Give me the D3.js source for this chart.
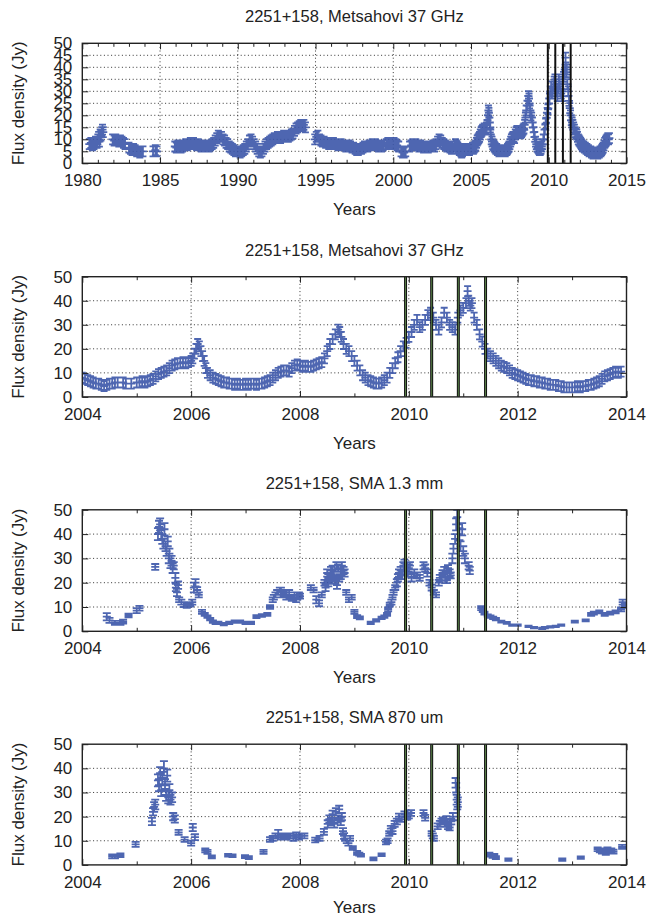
<!DOCTYPE html>
<meta charset="utf-8">

<!-- Load d3.js -->
<script src="https://d3js.org/d3.v7.min.js"></script>

<style>
  body { margin: 0; background: #fff; }
  text { font-family: "Liberation Sans", Arial, Helvetica, sans-serif; fill: #222; }
</style>

<div id="lightcurves"></div>

<script>

// Metsahovi 37 GHz light curve (year, Jy)
const m37Year = [
  1980.45, 1980.55, 1980.65, 1980.75, 1980.85, 1980.95, 1981.0, 1981.05, 1981.1, 1981.15, 1981.2, 1981.25, 1981.3, 1981.35,
  1981.95, 1982.05, 1982.15, 1982.25, 1982.35, 1982.45, 1982.55, 1982.65, 1982.75,
  1983.0, 1983.1, 1983.2, 1983.3, 1983.4, 1983.5, 1983.6, 1983.7, 1983.8, 1983.9,
  1984.55, 1984.7, 1984.8,
  1985.95, 1986.05, 1986.15, 1986.25, 1986.35, 1986.45, 1986.55, 1986.65, 1986.75, 1986.85, 1986.95,
  1987.05, 1987.15, 1987.25, 1987.35, 1987.45, 1987.55, 1987.65, 1987.75, 1987.85, 1987.95,
  1988.05, 1988.15, 1988.25, 1988.35, 1988.45, 1988.55, 1988.65, 1988.75, 1988.85, 1988.95,
  1989.05, 1989.15, 1989.25, 1989.35, 1989.45, 1989.55, 1989.65, 1989.75, 1989.85, 1989.95,
  1990.05, 1990.15, 1990.25, 1990.35, 1990.45, 1990.55, 1990.65, 1990.75, 1990.85, 1990.95,
  1991.05, 1991.15, 1991.25, 1991.35, 1991.45, 1991.55, 1991.65, 1991.75, 1991.85, 1991.95,
  1992.05, 1992.15, 1992.25, 1992.35, 1992.45, 1992.55, 1992.65, 1992.75, 1992.85, 1992.95,
  1993.05, 1993.15, 1993.25, 1993.35, 1993.45, 1993.55, 1993.65, 1993.75, 1993.85, 1993.95,
  1994.05, 1994.15, 1994.25, 1994.35,
  1994.95, 1995.05, 1995.15, 1995.25, 1995.35, 1995.45, 1995.55, 1995.65, 1995.75, 1995.85, 1995.95,
  1996.05, 1996.15, 1996.25, 1996.35, 1996.45, 1996.55, 1996.65, 1996.75, 1996.85, 1996.95,
  1997.05, 1997.15, 1997.25, 1997.35, 1997.45, 1997.55, 1997.65, 1997.75, 1997.85, 1997.95,
  1998.05, 1998.15, 1998.25, 1998.35, 1998.45, 1998.55, 1998.65, 1998.75, 1998.85, 1998.95,
  1999.05, 1999.15, 1999.25, 1999.35, 1999.55, 1999.65, 1999.75, 1999.85, 1999.95,
  2000.05, 2000.15, 2000.25, 2000.35, 2000.5, 2000.6, 2000.7, 2000.8,
  2001.05, 2001.15, 2001.25, 2001.35, 2001.45, 2001.55, 2001.65, 2001.75, 2001.85, 2001.95,
  2002.05, 2002.15, 2002.25, 2002.35, 2002.45, 2002.55, 2002.65, 2002.75, 2002.85, 2002.95,
  2003.05, 2003.15, 2003.25, 2003.35, 2003.45, 2003.55, 2003.65, 2003.75, 2003.85, 2003.95,
  2004.0, 2004.05, 2004.1, 2004.15, 2004.2, 2004.25, 2004.3, 2004.35, 2004.4, 2004.45,
  2004.5, 2004.55, 2004.6, 2004.65, 2004.75, 2004.8, 2004.9,
  2005.0, 2005.05, 2005.1, 2005.15, 2005.2, 2005.25, 2005.3, 2005.35, 2005.4, 2005.45,
  2005.5, 2005.55, 2005.6, 2005.65, 2005.7, 2005.75, 2005.8, 2005.85, 2005.9, 2005.95,
  2006.0, 2006.03, 2006.06, 2006.09, 2006.12, 2006.15, 2006.18, 2006.21, 2006.24, 2006.27,
  2006.3, 2006.35, 2006.4, 2006.45, 2006.5, 2006.55, 2006.6, 2006.65, 2006.7, 2006.75,
  2006.8, 2006.85, 2006.9, 2006.95, 2007.0, 2007.05, 2007.1, 2007.15, 2007.2, 2007.25,
  2007.3, 2007.35, 2007.4, 2007.45, 2007.5, 2007.55, 2007.6, 2007.65, 2007.7, 2007.75,
  2007.8, 2007.85, 2007.9, 2007.95, 2008.0, 2008.05, 2008.1, 2008.15, 2008.2, 2008.25,
  2008.3, 2008.35, 2008.4, 2008.45, 2008.5, 2008.55, 2008.6, 2008.65, 2008.7, 2008.73,
  2008.76, 2008.8, 2008.85, 2008.9, 2008.95, 2009.0, 2009.05, 2009.1, 2009.15, 2009.2,
  2009.25, 2009.3, 2009.35, 2009.4, 2009.45, 2009.5, 2009.55, 2009.6, 2009.65, 2009.7,
  2009.75, 2009.8, 2009.85, 2009.9, 2009.95, 2010.0, 2010.05, 2010.1, 2010.15, 2010.2,
  2010.25, 2010.3, 2010.35, 2010.4, 2010.45, 2010.5, 2010.55, 2010.6, 2010.65, 2010.7,
  2010.75, 2010.8, 2010.85, 2010.9, 2010.95, 2011.0, 2011.05, 2011.08, 2011.1, 2011.13,
  2011.16, 2011.2, 2011.25, 2011.3, 2011.35, 2011.4, 2011.45, 2011.5, 2011.55, 2011.6,
  2011.65, 2011.7, 2011.75, 2011.8, 2011.85, 2011.9, 2011.95, 2012.0, 2012.05, 2012.1,
  2012.15, 2012.2, 2012.25, 2012.3, 2012.35, 2012.4, 2012.45, 2012.5, 2012.55, 2012.6,
  2012.65, 2012.7, 2012.75, 2012.8, 2012.85, 2012.9, 2012.95, 2013.0, 2013.05, 2013.1,
  2013.15, 2013.2, 2013.25, 2013.3, 2013.35, 2013.4, 2013.45, 2013.5, 2013.55, 2013.6,
  2013.65, 2013.7, 2013.75, 2013.8, 2013.85, 2013.9
];
const m37Flux = [
  8, 8.5, 7.5, 8, 9, 8.5, 10, 11, 9, 12, 11.5, 13, 14, 13,
  10, 9.5, 10, 9.5, 9, 9.5, 9, 8.5, 8,
  6.5, 6, 5.5, 6, 5.5, 5, 5, 4.5, 5, 5,
  5, 5.5, 5,
  7, 6.5, 7.5, 7, 6.5, 7, 7.5, 8, 7.5, 8, 8.5,
  8, 8.5, 8, 7.5, 8, 7.5, 7, 7.5, 7.5, 7,
  7.5, 7, 7.5, 8, 8.5, 9.5, 10.5, 11.5, 11, 11,
  10, 9.5, 8.5, 8, 7, 6.5, 6, 5.5, 5, 5,
  5, 4.5, 5, 5.5, 6, 7, 8, 9.5, 10, 9,
  8, 7, 6, 5, 4.5, 5, 6, 7, 8, 8.5,
  9, 9.5, 10, 10.5, 10.5, 11, 11, 10.5, 11, 11.5,
  11, 11.5, 11, 11.5, 12, 12.5, 13.5, 14.5, 15, 15.5,
  16, 15.5, 16, 15,
  10, 11, 11.5, 10, 9.5, 9, 9, 8.5, 8.5, 8, 8.5,
  8, 8.5, 8, 8, 7.5, 8, 8, 7.5, 7.5, 7,
  7, 7.5, 7, 6.5, 6.5, 6, 5.5, 5.5, 6, 6,
  6.5, 7, 7, 7, 7.5, 7.5, 8, 7.5, 8, 7.5,
  7, 7.5, 7, 7.5, 8, 8.5, 8, 8.5, 8,
  8.5, 8, 7.5, 7, 5, 4.5, 4.5, 5,
  7, 7.5, 8, 7.5, 8, 7.5, 7, 7.5, 7, 6.5,
  7, 7, 6.5, 7, 7, 7.5, 7, 8, 9, 10,
  9.5, 8.5, 8, 7.5, 7, 7, 6.5, 6, 6, 7,
  8, 7.5, 7, 6.5, 6, 5.5, 5.5, 5, 4.5, 5,
  5.5, 5.5, 6, 6, 6, 5.5, 5.5,
  6, 6, 6.5, 6, 6.5, 7, 7.5, 8.5, 9.5, 10,
  10.5, 11, 12, 13, 13.5, 14, 14, 14.5, 14, 14.5,
  15, 16, 18, 20, 22, 21, 19, 17, 15, 12,
  10, 9, 8, 7.5, 7, 6.5, 6, 6, 5.5, 5.5,
  5, 5.5, 5, 5, 5.5, 5, 5.5, 5.5, 5, 5.5,
  5.5, 6, 6.5, 7, 8, 9, 10, 10.5, 11, 11,
  10.5, 12, 13, 13.5, 13, 12.5, 13, 12.5, 12.5, 13,
  13.5, 14, 14.5, 16, 19, 22, 24, 26, 28, 27,
  25, 22, 20, 19, 17, 15, 13, 11, 9, 8,
  7, 6.5, 6, 5.5, 5.5, 6, 7, 8, 10, 12,
  14, 16.5, 19, 21, 22.5, 25, 27, 30, 32, 29,
  30, 32, 34, 35, 33, 30, 28, 31, 35, 33,
  30, 29, 28, 33, 36, 37, 39, 44, 40, 38,
  39, 33, 30, 26, 23, 20, 18, 17, 16, 15,
  14, 13, 12.5, 12, 11, 10, 9.5, 9, 8.5, 8,
  7.5, 7, 7, 6.5, 6.5, 6, 6, 5.5, 5.5, 5,
  5, 5, 4.5, 4.5, 4, 4, 4, 4, 4, 4.5,
  4, 4.5, 4.5, 5, 5, 5.5, 6, 6.5, 7.5, 8.5,
  9, 9.5, 10, 10.5, 10, 10.5
];

// SMA 1.3 mm (year, Jy, error Jy)
const sma13Year = [
  2004.45, 2004.5, 2004.6, 2004.7, 2004.75, 2004.85, 2005.0, 2005.05, 2005.34,
  2005.39, 2005.41, 2005.43, 2005.45, 2005.47, 2005.49, 2005.51, 2005.53, 2005.55, 2005.57,
  2005.59, 2005.6, 2005.62, 2005.64, 2005.66, 2005.68, 2005.71, 2005.72, 2005.74, 2005.76,
  2005.78, 2005.82, 2005.87, 2005.92, 2005.98, 2006.02, 2006.05, 2006.08, 2006.11, 2006.14,
  2006.2, 2006.25, 2006.3, 2006.35, 2006.4, 2006.45, 2006.5, 2006.6, 2006.7, 2006.8,
  2006.9, 2007.0, 2007.1, 2007.2, 2007.3, 2007.4, 2007.45, 2007.5, 2007.55, 2007.6,
  2007.65, 2007.7, 2007.75, 2007.8, 2007.85, 2007.9, 2007.95, 2008.0, 2008.2, 2008.25,
  2008.3, 2008.35, 2008.4, 2008.45, 2008.5, 2008.55, 2008.6, 2008.65, 2008.7, 2008.75,
  2008.8, 2008.85, 2008.9, 2008.95, 2009.0, 2009.05, 2009.1, 2009.3, 2009.4, 2009.5,
  2009.55, 2009.6, 2009.65, 2009.7, 2009.75, 2009.8, 2009.85, 2009.9, 2009.95, 2010.0,
  2010.05, 2010.1, 2010.15, 2010.2, 2010.27, 2010.3, 2010.34, 2010.38, 2010.42, 2010.46,
  2010.5, 2010.55, 2010.6, 2010.65, 2010.7, 2010.75, 2010.8, 2010.82, 2010.85, 2010.87,
  2010.89, 2010.93, 2010.95, 2010.98, 2011.0, 2011.03, 2011.1, 2011.12, 2011.33, 2011.36,
  2011.39, 2011.45, 2011.5, 2011.55, 2011.6, 2011.7, 2011.8, 2011.9, 2012.0, 2012.2,
  2012.3, 2012.45, 2012.5, 2012.6, 2012.7, 2012.8, 2013.05, 2013.25, 2013.35, 2013.4,
  2013.5, 2013.6, 2013.7, 2013.8, 2013.9, 2013.93, 2013.97,
  2007.52, 2007.58, 2007.63, 2007.68, 2007.73, 2007.78, 2007.88, 2007.93, 2007.98,
  2008.47, 2008.52, 2008.57, 2008.62, 2008.67, 2008.72, 2008.77, 2008.82, 2008.52, 2008.6, 2008.68,
  2009.62, 2009.68, 2009.72, 2009.78, 2009.82, 2009.88, 2009.92, 2009.98, 2010.02,
  2010.57, 2010.62, 2010.67, 2010.72, 2010.77
];
const sma13Flux = [
  6, 4.5, 3.5, 3.5, 4, 6.5, 8.5, 9.5, 26.5,
  40, 43, 44, 40, 38, 36, 42, 35, 33, 37,
  30, 32, 28, 29, 26, 27, 22, 18, 16, 19,
  13, 12, 11, 10.5, 11, 12, 18, 20, 17, 15,
  8, 7, 6, 5, 4, 3.5, 3.5, 3, 3.5, 4,
  4, 3.5, 3.5, 6, 6.5, 7, 10, 13, 15, 16,
  17, 15.5, 14, 16, 13.5, 15, 14, 14.5, 18, 17,
  13, 11.5, 15, 20, 24, 22, 25, 21, 26, 23,
  25, 16, 13, 14, 8, 6, 5.5, 3.5, 4.5, 5.5,
  6, 7, 11, 14, 18, 22, 25, 27, 25, 26,
  22, 24, 23, 22, 27, 26, 24, 20, 18, 16,
  15, 20, 22, 25, 21, 24, 30, 34, 38, 44,
  47, 40, 35, 42, 33, 30, 27, 25, 9.5, 8.5,
  7.5, 6.5, 6, 5.5, 5, 4, 3.5, 2.5, 2.5, 2,
  1.5, 1.2, 1.5, 1.8, 2, 2.5, 4, 4.5, 7, 7.5,
  8, 7, 7.5, 8, 9, 12, 10.5,
  14, 16, 17, 15, 16, 14, 14, 13, 15,
  18, 22, 25, 23, 27, 22, 27, 24, 20, 21, 19,
  9, 12, 16, 20, 24, 23, 28, 24, 27,
  22, 24, 21, 26, 23
];
const sma13Err = [
  1.5, 1, 0.8, 0.8, 0.8, 0.8, 1, 1, 1.2,
  2.5, 2.5, 2.5, 2.5, 2, 2, 2.5, 2, 2, 2,
  2, 2, 2, 2, 2, 1.5, 2, 1.5, 1.5, 1.5,
  1, 1, 1, 0.8, 0.8, 1, 2, 1.5, 1.2, 1,
  0.8, 0.6, 0.5, 0.5, 0.5, 0.5, 0.5, 0.5, 0.5, 0.5,
  0.5, 0.5, 0.5, 0.6, 0.6, 0.6, 0.8, 1, 1, 1,
  1, 1, 1, 1, 1, 1, 1, 1, 1, 1,
  1.5, 1.2, 1, 1.2, 1.5, 1.5, 2, 1.5, 1.5, 1.5,
  1.5, 1, 1, 1, 0.8, 0.6, 0.6, 0.5, 0.5, 0.5,
  0.5, 0.6, 0.8, 1, 1, 1.5, 1.5, 1.5, 1.5, 1.5,
  1.5, 1.5, 1.2, 1.2, 1.5, 1.5, 1.5, 1.2, 1.2, 1,
  1, 1.2, 1.2, 1.5, 1.2, 1.5, 2, 2, 2, 2.5,
  3, 2.5, 2, 2.5, 2, 2, 1.5, 1.5, 0.8, 0.6,
  0.6, 0.5, 0.5, 0.5, 0.5, 0.4, 0.4, 0.3, 0.3, 0.3,
  0.3, 0.3, 0.3, 0.3, 0.3, 0.3, 0.4, 0.4, 0.6, 0.6,
  0.6, 0.6, 0.6, 0.6, 0.8, 1, 0.8,
  1, 1, 1, 1, 1, 1, 1, 1, 1,
  1.5, 1.5, 1.5, 1.5, 1.5, 1.5, 1.5, 1.5, 1.5, 1.5, 1.5,
  0.8, 1, 1, 1.5, 1.5, 1.5, 1.5, 1.5, 1.5,
  1.2, 1.2, 1.2, 1.2, 1.2
];

// SMA 870 um (year, Jy, error Jy)
const sma870Year = [
  2004.55, 2004.6, 2004.7, 2004.98, 2005.28, 2005.3, 2005.32, 2005.34,
  2005.39, 2005.41, 2005.43, 2005.45, 2005.47, 2005.5, 2005.52, 2005.54, 2005.56, 2005.58,
  2005.6, 2005.62, 2005.65, 2005.67, 2005.7, 2005.77, 2005.88, 2006.0, 2006.03, 2006.07,
  2006.26, 2006.3, 2006.38, 2006.68, 2006.76, 2006.99, 2007.06, 2007.33,
  2007.45, 2007.5, 2007.55, 2007.6, 2007.65, 2007.7, 2007.75, 2007.83, 2007.88, 2007.93,
  2007.98, 2008.03, 2008.08, 2008.28, 2008.36, 2008.44,
  2008.51, 2008.54, 2008.57, 2008.6, 2008.63, 2008.66, 2008.69, 2008.72, 2008.75, 2008.77,
  2008.79, 2008.81, 2008.83, 2008.86, 2008.89, 2008.92, 2008.97, 2009.05, 2009.09, 2009.12,
  2009.35, 2009.5, 2009.58, 2009.61, 2009.64, 2009.67, 2009.7, 2009.74, 2009.78,
  2009.82, 2009.87, 2009.92, 2009.97, 2010.0, 2010.04, 2010.27, 2010.3,
  2010.42, 2010.44, 2010.46, 2010.53, 2010.57, 2010.6, 2010.63, 2010.66, 2010.69, 2010.72,
  2010.75, 2010.78, 2010.81, 2010.86, 2010.87, 2010.88, 2010.89, 2010.9,
  2011.48, 2011.51, 2011.54, 2011.57, 2011.6, 2011.83, 2012.82, 2013.16,
  2013.47, 2013.51, 2013.55, 2013.59, 2013.62, 2013.65, 2013.68, 2013.72, 2013.76, 2013.92
];
const sma870Flux = [
  3.5, 3.5, 4, 8.5, 18, 22, 24, 25,
  35, 33, 38, 31, 36, 40, 33, 29, 37, 28,
  31, 27, 28, 20, 19, 13.5, 10.5, 9, 15.5, 11.5,
  6, 5.4, 3.3, 4, 3.8, 3.4, 3, 5.4,
  10.5, 11, 12, 13, 11.5, 12, 11.5, 12, 11, 12.5,
  11.5, 12, 12, 10.3, 11, 13.7,
  17, 19, 18, 21, 17, 22, 19, 23, 18, 20,
  14, 12, 11, 10, 9, 11, 7, 5, 4.5, 4,
  2.5, 4.2, 9.5, 10, 13, 15, 14, 17, 18,
  20, 19, 21, 20, 20.5, 21.5, 21.5, 19.5,
  13, 12, 11, 16, 17, 18, 18.5, 17, 19, 16,
  15.5, 18, 20, 34, 32, 27, 25, 26,
  4.5, 4, 3.5, 4, 3, 2.2, 2.2, 3,
  6.5, 6, 5.5, 6, 5, 6.5, 5.5, 6, 5.5, 7.5
];
const sma870Err = [
  0.8, 0.8, 0.8, 1, 1.5, 1.5, 2, 2,
  2.5, 2.5, 2.5, 2.5, 2.5, 3, 2.5, 2.5, 2.5, 2.5,
  2.5, 2, 2, 1.5, 1.5, 1, 1, 1, 1.5, 1.2,
  0.8, 0.8, 0.6, 0.6, 0.6, 0.6, 0.6, 0.8,
  1, 1, 1, 1.5, 1, 1, 1, 1, 1, 1,
  1, 1, 1, 1, 1, 1.2,
  1.5, 1.5, 1.5, 1.5, 1.5, 1.5, 1.5, 1.5, 1.5, 1.5,
  1.2, 1.2, 1, 1, 1, 1, 0.8, 0.8, 0.6, 0.6,
  0.6, 0.6, 1, 1, 1, 1.2, 1.2, 1.2, 1.2,
  1.2, 1.2, 1.2, 1.2, 1.2, 1.2, 1.2, 1.2,
  1, 1, 1, 1.2, 1.2, 1.2, 1.2, 1.2, 1.2, 1.2,
  1.2, 1.2, 1.5, 2, 2, 2, 2, 2,
  0.6, 0.6, 0.6, 0.6, 0.6, 0.5, 0.5, 0.5,
  0.8, 0.8, 0.8, 0.8, 0.8, 0.8, 0.8, 0.8, 0.8, 0.8
];

// flare epochs marked by the vertical lines
const flareEpochs = [2009.94, 2010.42, 2010.91, 2011.41];

// panel titles
const titles = ["2251+158, Metsahovi 37 GHz", "2251+158, Metsahovi 37 GHz",
                "2251+158, SMA 1.3 mm", "2251+158, SMA 870 um"];

const width = 650, height = 917;
const left = 82.3, right = 626.5;
const blue = "#3b55a8";

const svg = d3.select("#lightcurves")
  .append("svg")
    .attr("width", width)
    .attr("height", height);

function toPoints(years, flux, err) {
  return years.map((t, i) => ({t: t, f: flux[i], e: err ? err[i] : null}));
}

const m37 = toPoints(m37Year, m37Flux);

const panels = [
  {top: 43.3, bottom: 163.3, x0: 1980, x1: 2015, major: 5, yStep: 5,
   data: m37},
  {top: 276.7, bottom: 396.9, x0: 2004, x1: 2014, major: 2, yStep: 10,
   data: m37.filter(d => d.t >= 2004)},
  {top: 509.8, bottom: 631.3, x0: 2004, x1: 2014, major: 2, yStep: 10,
   data: toPoints(sma13Year, sma13Flux, sma13Err)},
  {top: 744.2, bottom: 864.9, x0: 2004, x1: 2014, major: 2, yStep: 10,
   data: toPoints(sma870Year, sma870Flux, sma870Err)}
];

panels.forEach(function(p, k) {
  const x = d3.scaleLinear().domain([p.x0, p.x1]).range([left, right]);
  const y = d3.scaleLinear().domain([0, 50]).range([p.bottom, p.top]);
  const h = p.bottom - p.top;

  const majorT = d3.range(p.x0, p.x1 + 0.001, p.major);
  const minorT = d3.range(p.x0, p.x1 + 0.001, 1).filter(t => (t - p.x0) % p.major !== 0);
  const yT = d3.range(0, 50.001, p.yStep);

  const g = svg.append("g");

  // dotted grid
  g.append("g")
    .selectAll("line")
    .data(majorT.slice(1, -1))
    .join("line")
      .attr("x1", d => x(d)).attr("x2", d => x(d))
      .attr("y1", p.top).attr("y2", p.bottom);
  g.append("g")
    .selectAll("line")
    .data(yT.slice(1, -1))
    .join("line")
      .attr("x1", left).attr("x2", right)
      .attr("y1", d => y(d)).attr("y2", d => y(d));
  g.selectAll("g line")
    .attr("stroke", "#333")
    .attr("stroke-width", 1)
    .attr("stroke-dasharray", "1,2.6");

  // clip for data
  const clipId = "clip" + k;
  svg.append("clipPath").attr("id", clipId)
    .append("rect")
      .attr("x", left).attr("y", p.top)
      .attr("width", right - left).attr("height", h);

  // points with error bars, gnuplot style
  let path = "";
  p.data.forEach(function(d) {
    const cx = x(d.t), cy = y(d.f);
    if (d.e === null) {
      path += `M${cx - 4},${cy}H${cx + 4}M${cx},${cy - 5.5}V${cy + 5.5}` +
              `M${cx - 3.5},${cy - 5}H${cx + 3.5}M${cx - 3.5},${cy + 5}H${cx + 3.5}`;
    } else {
      const y1 = y(d.f - d.e), y2 = y(d.f + d.e);
      path += `M${cx - 4},${cy}H${cx + 4}M${cx},${y1}V${y2}` +
              `M${cx - 4},${y1}H${cx + 4}M${cx - 4},${y2}H${cx + 4}`;
    }
  });
  svg.append("path")
    .attr("clip-path", `url(#${clipId})`)
    .attr("d", path)
    .attr("fill", "none")
    .attr("stroke", blue)
    .attr("stroke-width", 1.8)
    .attr("stroke-opacity", 0.9);

  // flare lines
  const fl = svg.append("g");
  fl.selectAll(".outer")
    .data(flareEpochs)
    .join("line")
      .attr("x1", d => x(d)).attr("x2", d => x(d))
      .attr("y1", p.top).attr("y2", p.bottom)
      .attr("stroke", "#111").attr("stroke-width", k === 0 ? 2 : 3);
  if (k > 0) {
    fl.selectAll(".inner")
      .data(flareEpochs)
      .join("line")
        .attr("x1", d => x(d)).attr("x2", d => x(d))
        .attr("y1", p.top).attr("y2", p.bottom)
        .attr("stroke", "#6a9a55").attr("stroke-width", 0.8);
  }

  // axes: ticks point inward, mirrored on the opposite side
  const ax = svg.append("g");
  ax.append("g")
    .attr("transform", `translate(0,${p.bottom})`)
    .call(d3.axisBottom(x).tickValues(majorT).tickFormat(d3.format("d"))
      .tickSizeInner(-6).tickSizeOuter(0).tickPadding(11));
  ax.append("g")
    .attr("transform", `translate(0,${p.bottom})`)
    .call(d3.axisBottom(x).tickValues(minorT).tickFormat("")
      .tickSizeInner(-3.5).tickSizeOuter(0));
  ax.append("g")
    .attr("transform", `translate(0,${p.top})`)
    .call(d3.axisTop(x).tickValues(majorT).tickFormat("")
      .tickSizeInner(-6).tickSizeOuter(0));
  ax.append("g")
    .attr("transform", `translate(0,${p.top})`)
    .call(d3.axisTop(x).tickValues(minorT).tickFormat("")
      .tickSizeInner(-3.5).tickSizeOuter(0));
  ax.append("g")
    .attr("transform", `translate(${left},0)`)
    .call(d3.axisLeft(y).tickValues(yT).tickFormat(d3.format("d"))
      .tickSizeInner(-6).tickSizeOuter(0).tickPadding(10));
  ax.append("g")
    .attr("transform", `translate(${right},0)`)
    .call(d3.axisRight(y).tickValues(yT).tickFormat("")
      .tickSizeInner(-6).tickSizeOuter(0));
  ax.selectAll(".domain").remove();
  ax.selectAll(".tick line").attr("stroke", "#222").attr("stroke-width", 1);
  ax.selectAll(".tick text")
    .attr("fill", "#222")
    .style("font-size", "17px")
    .style("font-family", '"Liberation Sans", Arial, sans-serif');

  // frame
  svg.append("rect")
    .attr("x", left).attr("y", p.top)
    .attr("width", right - left).attr("height", h)
    .attr("fill", "none").attr("stroke", "#222").attr("stroke-width", 1.4);

  // title and labels
  svg.append("text")
    .attr("x", (left + right) / 2).attr("y", p.top - 21)
    .attr("text-anchor", "middle").style("font-size", "16.5px")
    .text(titles[k]);
  svg.append("text")
    .attr("x", (left + right) / 2).attr("y", Math.min(p.bottom + 52, 913))
    .attr("text-anchor", "middle").style("font-size", "17px")
    .text("Years");
  svg.append("text")
    .attr("transform", `translate(24,${(p.top + p.bottom) / 2}) rotate(-90)`)
    .attr("text-anchor", "middle").style("font-size", "17px")
    .text("Flux density (Jy)");
});

</script>
